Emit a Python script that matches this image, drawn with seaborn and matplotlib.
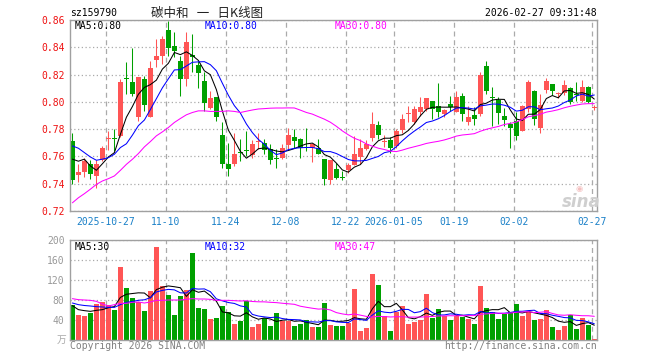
import numpy as np
import pandas as pd
import matplotlib
matplotlib.use("Agg")
import matplotlib.pyplot as plt
import seaborn as sns

# daily K-line data, 2025-10-17 .. 2026-02-27 (88 trading days)
opens = [0.7710, 0.7464, 0.7489, 0.7542, 0.7454, 0.7577, 0.7725, 0.7733, 0.7751, 0.8175,
         0.8143, 0.7886, 0.8165, 0.7886, 0.8307, 0.8334, 0.8530, 0.8407, 0.8302, 0.8167,
         0.8346, 0.8273, 0.8155, 0.7954, 0.8033, 0.7758, 0.7547, 0.7543, 0.7631, 0.7643,
         0.7611, 0.7703, 0.7699, 0.7653, 0.7583, 0.7591, 0.7682, 0.7746, 0.7731, 0.7663,
         0.7665, 0.7665, 0.7584, 0.7430, 0.7511, 0.7447, 0.7498, 0.7535, 0.7596, 0.7653,
         0.7734, 0.7832, 0.7706, 0.7724, 0.7677, 0.7792, 0.7912, 0.7856, 0.7922, 0.7947,
         0.8003, 0.7971, 0.7910, 0.7981, 0.7927, 0.8045, 0.7856, 0.7905, 0.7910, 0.8265,
         0.8030, 0.8013, 0.7893, 0.7837, 0.7861, 0.7787, 0.7947, 0.8082, 0.7807, 0.8086,
         0.8130, 0.8055, 0.8062, 0.8101, 0.8052, 0.8008, 0.8110, 0.7952]
highs = [0.7775, 0.7543, 0.7587, 0.7572, 0.7572, 0.7675, 0.7783, 0.7800, 0.8165, 0.8295,
         0.8393, 0.8185, 0.8192, 0.8302, 0.8461, 0.8483, 0.8591, 0.8510, 0.8339, 0.8510,
         0.8495, 0.8302, 0.8216, 0.8082, 0.8035, 0.7856, 0.7702, 0.7775, 0.7726, 0.7787,
         0.7719, 0.7775, 0.7731, 0.7689, 0.7653, 0.7689, 0.7812, 0.7800, 0.7735, 0.7812,
         0.7702, 0.7726, 0.7584, 0.7575, 0.7555, 0.7494, 0.7555, 0.7750, 0.7726, 0.7719,
         0.7922, 0.7861, 0.7758, 0.7743, 0.7800, 0.7910, 0.7971, 0.7971, 0.8037, 0.8028,
         0.8005, 0.8136, 0.7945, 0.8045, 0.8077, 0.8062, 0.7971, 0.7964, 0.8216, 0.8297,
         0.8106, 0.8033, 0.7954, 0.7856, 0.7922, 0.7975, 0.8160, 0.8085, 0.8057, 0.8175,
         0.8133, 0.8069, 0.8160, 0.8106, 0.8143, 0.8160, 0.8113, 0.7979]
lows = [0.7395, 0.7415, 0.7449, 0.7435, 0.7366, 0.7567, 0.7645, 0.7640, 0.7743, 0.8057,
        0.8040, 0.7861, 0.7930, 0.7886, 0.8253, 0.8278, 0.8339, 0.8327, 0.8045, 0.8118,
        0.8216, 0.8100, 0.7935, 0.7950, 0.7861, 0.7518, 0.7457, 0.7530, 0.7567, 0.7604,
        0.7591, 0.7657, 0.7621, 0.7543, 0.7518, 0.7579, 0.7653, 0.7665, 0.7591, 0.7640,
        0.7562, 0.7616, 0.7391, 0.7395, 0.7432, 0.7425, 0.7480, 0.7535, 0.7547, 0.7645,
        0.7714, 0.7726, 0.7670, 0.7628, 0.7665, 0.7775, 0.7849, 0.7841, 0.7898, 0.7930,
        0.7873, 0.7886, 0.7886, 0.7935, 0.7922, 0.7861, 0.7832, 0.7832, 0.7898, 0.8057,
        0.7824, 0.7837, 0.7824, 0.7660, 0.7719, 0.7785, 0.7922, 0.7832, 0.7775, 0.8062,
        0.8052, 0.8028, 0.8052, 0.7984, 0.8008, 0.7996, 0.7989, 0.7940]
closes = [0.7425, 0.7484, 0.7567, 0.7474, 0.7542, 0.7665, 0.7730, 0.7728, 0.8143, 0.8170,
          0.8057, 0.8180, 0.7979, 0.8246, 0.8334, 0.8461, 0.8393, 0.8376, 0.8167, 0.8437,
          0.8327, 0.8211, 0.7995, 0.8025, 0.7890, 0.7543, 0.7511, 0.7616, 0.7625, 0.7640,
          0.7694, 0.7707, 0.7645, 0.7572, 0.7580, 0.7664, 0.7756, 0.7714, 0.7665, 0.7660,
          0.7694, 0.7616, 0.7433, 0.7572, 0.7440, 0.7444, 0.7535, 0.7616, 0.7665, 0.7694,
          0.7841, 0.7758, 0.7710, 0.7665, 0.7787, 0.7873, 0.7917, 0.7947, 0.7964, 0.8025,
          0.7947, 0.7927, 0.7942, 0.7964, 0.8033, 0.7910, 0.7886, 0.7873, 0.8199, 0.8082,
          0.8026, 0.7915, 0.7868, 0.7812, 0.7751, 0.7971, 0.8143, 0.7873, 0.7979, 0.8155,
          0.8082, 0.8059, 0.8126, 0.7996, 0.8048, 0.8106, 0.7996, 0.7956]
volumes = [70, 50.7, 48.7, 54.7, 72.7, 76.7, 70, 60, 146.7, 104,
           84, 77, 58, 98, 186.7, 108, 90, 50, 88, 100,
           174.7, 64.7, 62, 42, 44, 68, 56, 32, 38.7, 78,
           26.7, 32, 45, 28, 54, 38.7, 38.7, 28, 32, 40,
           26.7, 26, 74, 30, 28.7, 28.7, 34, 102, 18.7, 24,
           132.7, 110, 48, 18.7, 57, 68, 32, 36, 40.7, 92.7,
           45, 62, 49, 40.7, 49, 47, 42.7, 32, 108, 64,
           57, 42, 52.7, 56, 72, 48, 56, 40, 42.7, 60,
           26, 20, 28, 50, 22, 44, 30, 2]

# moving-average values at the start of the window (earlier days are off-chart)
ma5_head = [0.7580, 0.7565, 0.7580, 0.7530]
ma10_head = [0.7677, 0.7660, 0.7628, 0.7596, 0.7572, 0.7580, 0.7591, 0.7616, 0.7665]
ma30_head = [0.7260, 0.7297, 0.7327, 0.7360, 0.7395, 0.7420, 0.7437, 0.7457, 0.7498, 0.7542,
             0.7579, 0.7621, 0.7670, 0.7709, 0.7751, 0.7780, 0.7812, 0.7849, 0.7878, 0.7905,
             0.7922, 0.7934, 0.7934, 0.7930, 0.7930, 0.7930, 0.7934, 0.7930, 0.7922]
vma5_head = [68.7, 60.7, 58.7, 57.3]
vma10_head = [74, 70.7, 69, 68, 66.7, 66, 65.3, 65.3, 70.7]
vma30_head = [82.7, 80.7, 80, 79.3, 77.3, 72, 68, 70.7, 73.3, 73.3,
              75.3, 76, 74, 76, 79.3, 79.3, 80, 80, 80, 81.3,
              82.7, 82, 82, 81.3, 79.3, 79.3, 79.3, 78.7, 78]

date_idx = [6, 16, 26, 36, 46, 54, 64, 74, 87]
date_labels = ["2025-10-27", "11-10", "11-24", "12-08", "12-22", "2026-01-05", "01-19", "02-02", "02-27"]


def with_head(values, n, head):
    out = pd.Series(values).rolling(n).mean().to_numpy()
    out[:len(head)] = head
    return out


df = pd.DataFrame({"i": np.arange(len(closes)), "open": opens, "high": highs,
                   "low": lows, "close": closes, "vol": volumes})
df["dir"] = np.where(df["close"] >= df["open"], "up", "down")
df["ma5"] = with_head(closes, 5, ma5_head)
df["ma10"] = with_head(closes, 10, ma10_head)
df["ma30"] = with_head(closes, 30, ma30_head)
df["vma5"] = with_head(volumes, 5, vma5_head)
df["vma10"] = with_head(volumes, 10, vma10_head)
df["vma30"] = with_head(volumes, 30, vma30_head)

RED = "#ff5555"
GREEN = "#00a000"
pal = {"up": RED, "down": GREEN}
cols = df["dir"].map(pal)

sns.set_theme(style="white")
plt.rcParams["font.family"] = ["DejaVu Sans Mono"]
W, H = 660, 360
fig = plt.figure(figsize=(6.6, 3.6), dpi=100)


def fx(x):
    return x / W


def fy(y):
    return 1 - y / H


ax = fig.add_axes([fx(70), fy(211), 527 / W, 191 / H])
axv = fig.add_axes([fx(70), fy(340), 527 / W, 100 / H])

# candles
body_lo = np.minimum(df["open"], df["close"])
body_h = np.maximum((df["close"] - df["open"]).abs(), 0.0008)
ax.vlines(df["i"], df["low"], df["high"], colors=cols, lw=0.75)
ax.bar(df["i"], body_h, bottom=body_lo, width=0.83, color=cols, lw=0)
sns.lineplot(data=df, x="i", y="ma5", color="black", lw=0.75, ax=ax)
sns.lineplot(data=df, x="i", y="ma10", color="#0000ff", lw=0.75, ax=ax)
sns.lineplot(data=df, x="i", y="ma30", color="#ff00ff", lw=0.75, ax=ax)

# volume
sns.barplot(data=df, x="i", y="vol", hue="dir", palette=pal, native_scale=True,
            width=0.83, dodge=False, legend=False, errorbar=None, saturation=1,
            linewidth=0, ax=axv)
sns.lineplot(data=df, x="i", y="vma5", color="black", lw=0.75, ax=axv)
sns.lineplot(data=df, x="i", y="vma10", color="#0000ff", lw=0.75, ax=axv)
sns.lineplot(data=df, x="i", y="vma30", color="#ff00ff", lw=0.75, ax=axv)

gx = [d - 0.4 for d in date_idx]
for a in (ax, axv):
    a.set_xlim(-0.4, 87.45)
    a.set_xticks(gx)
    a.set_xlabel("")
    a.set_ylabel("")
    a.grid(axis="x", color="#aaaaaa", lw=0.9, ls=(0, (4, 3)))
    a.grid(axis="y", color="#aaaaaa", lw=0.9, ls=(0, (1, 2)))
    for s in a.spines.values():
        s.set_color("#a0a0a0")
        s.set_linewidth(1)
    a.tick_params(length=0, labelsize=7, pad=4)

ax.set_ylim(0.72, 0.86)
ax.set_yticks(np.arange(0.72, 0.861, 0.02))
ax.set_yticklabels([f"{v:.2f}" for v in np.arange(0.72, 0.861, 0.02)], color="#ee1111")
ax.set_xticklabels(date_labels, color="#1a80c8")

axv.set_ylim(0, 200)
axv.set_yticks([0, 40, 80, 120, 160, 200])
axv.set_yticklabels(["", "40", "80", "120", "160", "200"], color="#999999")
axv.set_xticklabels([])

mono = dict(fontsize=7, va="center")
fig.text(fx(70), fy(13), "sz159790", ha="left", color="black", **mono)
fig.text(fx(597), fy(13), "2026-02-27 09:31:48", ha="right", color="black", **mono)
fig.text(fx(207), fy(13), "碳中和   一   日K线图", ha="center", va="center", fontsize=9,
         family=["Noto Sans CJK SC", "DejaVu Sans"], color="#222222")

fig.text(fx(75), fy(26), "MA5:0.80", ha="left", color="black", **mono)
fig.text(fx(205), fy(26), "MA10:0.80", ha="left", color="#0000ff", **mono)
fig.text(fx(335), fy(26), "MA30:0.80", ha="left", color="#ff00ff", **mono)
fig.text(fx(75), fy(247), "MA5:30", ha="left", color="black", **mono)
fig.text(fx(205), fy(247), "MA10:32", ha="left", color="#0000ff", **mono)
fig.text(fx(335), fy(247), "MA30:47", ha="left", color="#ff00ff", **mono)

fig.text(fx(66), fy(340), "万", ha="right", va="center", fontsize=7, color="#aaaaaa",
         family=["Noto Sans CJK SC", "DejaVu Sans"])
fig.text(fx(70), fy(346), "Copyright 2026 SINA.COM", ha="left", color="#808080", **mono)
fig.text(fx(597), fy(346), "http://finance.sina.com.cn", ha="right", color="#808080", **mono)

# sina watermark
fig.text(fx(581), fy(202), "sina", ha="center", va="center", fontsize=12, style="italic",
         weight="bold", color="#cfcfcf", family=["DejaVu Sans"])
fig.text(fx(579), fy(188), "◉", ha="center", va="center", fontsize=6, color="#f4c0c0",
         family=["DejaVu Sans"])

fig.savefig("out.png", dpi=100)
